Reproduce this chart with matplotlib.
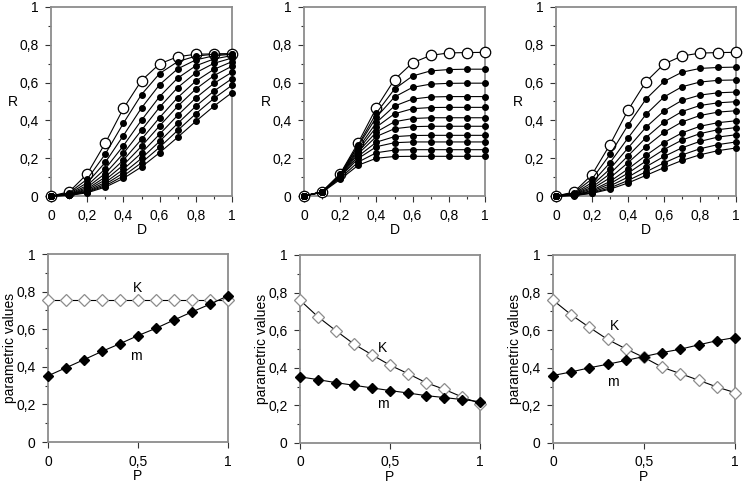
import numpy as np
import matplotlib
matplotlib.use("Agg")
import matplotlib.pyplot as plt
from matplotlib.ticker import MultipleLocator, FuncFormatter

plt.rcParams['font.family'] = ['Liberation Sans', 'DejaVu Sans']
plt.rcParams['font.size'] = 10

# x values
D = [0, 0.1, 0.2, 0.3, 0.4, 0.5, 0.6, 0.7, 0.8, 0.9, 1.0]
P = [0, 0.1, 0.2, 0.3, 0.4, 0.5, 0.6, 0.7, 0.8, 0.9, 1.0]

# bottom row: parameter values K and m against P
K_left = [0.753, 0.753, 0.753, 0.753, 0.753, 0.753, 0.753, 0.753, 0.753, 0.753, 0.753]
m_left = [0.352, 0.395, 0.438, 0.482, 0.523, 0.566, 0.605, 0.649, 0.692, 0.733, 0.778]
K_mid = [0.760, 0.671, 0.597, 0.526, 0.469, 0.414, 0.369, 0.321, 0.286, 0.245, 0.210]
m_mid = [0.352, 0.337, 0.321, 0.307, 0.293, 0.279, 0.266, 0.252, 0.242, 0.231, 0.220]
K_right = [0.760, 0.682, 0.615, 0.551, 0.501, 0.455, 0.403, 0.369, 0.334, 0.298, 0.268]
m_right = [0.359, 0.378, 0.400, 0.419, 0.439, 0.460, 0.481, 0.499, 0.522, 0.544, 0.561]

# top row: R against D, one row per P value (first row = P 0, open circles)
R_left = [
    [0.000, 0.022, 0.117, 0.280, 0.463, 0.611, 0.699, 0.737, 0.750, 0.752, 0.753],
    [0.000, 0.017, 0.089, 0.222, 0.385, 0.537, 0.648, 0.711, 0.740, 0.750, 0.752],
    [0.000, 0.013, 0.070, 0.178, 0.320, 0.466, 0.589, 0.673, 0.720, 0.742, 0.750],
    [0.000, 0.010, 0.056, 0.144, 0.266, 0.401, 0.526, 0.624, 0.689, 0.725, 0.743],
    [0.000, 0.008, 0.046, 0.119, 0.225, 0.348, 0.470, 0.574, 0.652, 0.702, 0.730],
    [0.000, 0.007, 0.038, 0.100, 0.190, 0.300, 0.415, 0.521, 0.608, 0.670, 0.711],
    [0.000, 0.006, 0.032, 0.085, 0.164, 0.263, 0.371, 0.475, 0.566, 0.637, 0.687],
    [0.000, 0.005, 0.027, 0.072, 0.141, 0.228, 0.327, 0.427, 0.519, 0.596, 0.655],
    [0.000, 0.004, 0.023, 0.062, 0.122, 0.199, 0.289, 0.384, 0.475, 0.555, 0.621],
    [0.000, 0.004, 0.020, 0.054, 0.106, 0.176, 0.258, 0.347, 0.435, 0.516, 0.586],
    [0.000, 0.003, 0.017, 0.047, 0.093, 0.154, 0.229, 0.311, 0.395, 0.475, 0.547],
]
R_mid = [
    [0.000, 0.022, 0.118, 0.283, 0.467, 0.616, 0.705, 0.744, 0.757, 0.759, 0.760],
    [0.000, 0.022, 0.115, 0.271, 0.439, 0.566, 0.635, 0.662, 0.669, 0.671, 0.671],
    [0.000, 0.022, 0.114, 0.265, 0.417, 0.524, 0.575, 0.592, 0.596, 0.597, 0.597],
    [0.000, 0.022, 0.111, 0.253, 0.389, 0.476, 0.513, 0.524, 0.526, 0.526, 0.526],
    [0.000, 0.022, 0.110, 0.244, 0.365, 0.435, 0.462, 0.468, 0.469, 0.469, 0.469],
    [0.000, 0.021, 0.108, 0.234, 0.339, 0.393, 0.410, 0.414, 0.414, 0.414, 0.414],
    [0.000, 0.022, 0.106, 0.224, 0.315, 0.356, 0.367, 0.369, 0.369, 0.369, 0.369],
    [0.000, 0.021, 0.103, 0.211, 0.285, 0.314, 0.320, 0.321, 0.321, 0.321, 0.321],
    [0.000, 0.021, 0.100, 0.199, 0.261, 0.282, 0.286, 0.286, 0.286, 0.286, 0.286],
    [0.000, 0.020, 0.094, 0.180, 0.229, 0.243, 0.245, 0.245, 0.245, 0.245, 0.245],
    [0.000, 0.019, 0.088, 0.163, 0.200, 0.209, 0.210, 0.210, 0.210, 0.210, 0.210],
]
R_right = [
    [0.000, 0.021, 0.113, 0.272, 0.454, 0.605, 0.698, 0.741, 0.756, 0.759, 0.760],
    [0.000, 0.017, 0.090, 0.220, 0.375, 0.513, 0.606, 0.655, 0.675, 0.680, 0.682],
    [0.000, 0.013, 0.071, 0.176, 0.307, 0.432, 0.524, 0.578, 0.603, 0.612, 0.614],
    [0.000, 0.011, 0.057, 0.143, 0.254, 0.364, 0.450, 0.506, 0.534, 0.546, 0.550],
    [0.000, 0.009, 0.046, 0.118, 0.212, 0.309, 0.391, 0.447, 0.479, 0.493, 0.499],
    [0.000, 0.007, 0.038, 0.096, 0.176, 0.261, 0.337, 0.392, 0.426, 0.444, 0.451],
    [0.000, 0.005, 0.030, 0.077, 0.143, 0.215, 0.282, 0.334, 0.369, 0.388, 0.398],
    [0.000, 0.005, 0.025, 0.065, 0.121, 0.185, 0.246, 0.296, 0.330, 0.351, 0.362],
    [0.000, 0.004, 0.020, 0.053, 0.100, 0.155, 0.209, 0.255, 0.289, 0.312, 0.324],
    [0.000, 0.003, 0.016, 0.043, 0.082, 0.128, 0.175, 0.217, 0.250, 0.272, 0.286],
    [0.000, 0.002, 0.014, 0.036, 0.069, 0.109, 0.150, 0.188, 0.218, 0.240, 0.254],
]

top_data = [R_left, R_mid, R_right]
bot_data = [(K_left, m_left), (K_mid, m_mid), (K_right, m_right)]
text_pos = [((0.5, 0.82), (0.49, 0.46)),
            ((0.46, 0.505), (0.46, 0.21)),
            ((0.34, 0.62), (0.33, 0.325))]


def fmt(v, pos):
    s = ('%.1f' % v).rstrip('0').rstrip('.')
    return s.replace('.', ',')


fig = plt.figure(figsize=(7.43, 4.84), dpi=100)
# axes boxes in pixels: left, top, width, height
top_pos = [(51, 7, 181, 189), (304, 7, 181, 189), (556, 7, 180, 189)]
bot_pos = [(48, 254, 180, 188), (300, 255, 180, 188), (553, 255, 182, 188)]


def mk_ax(p):
    x, y, w, h = p
    ax = fig.add_axes([x / 743, 1 - (y + h) / 484, w / 743, h / 484])
    for s in ax.spines.values():
        s.set_color('#8c8c8c')
        s.set_linewidth(1.3)
    ax.tick_params(which='both', direction='out', color='#333333', width=0.8,
                   labelsize=10, pad=5)
    ax.tick_params(which='major', length=4)
    ax.tick_params(which='minor', length=2.5)
    ax.yaxis.set_major_locator(MultipleLocator(0.2))
    ax.yaxis.set_minor_locator(MultipleLocator(0.1))
    ax.yaxis.set_major_formatter(FuncFormatter(fmt))
    ax.xaxis.set_major_formatter(FuncFormatter(fmt))
    ax.set_xlim(0, 1)
    ax.set_ylim(0, 1)
    return ax


for j in range(3):
    ax = mk_ax(top_pos[j])
    ax.xaxis.set_major_locator(MultipleLocator(0.2))
    ax.xaxis.set_minor_locator(MultipleLocator(0.1))
    curves = top_data[j]
    ax.plot(D, curves[0], '-', color='black', lw=0.8, marker='o', ms=7.5,
            mfc='white', mec='black', mew=0.9, zorder=3, clip_on=False)
    for row in curves[1:]:
        ax.plot(D, row, '-', color='black', lw=0.8, marker='o', ms=4,
                mfc='black', mec='black', zorder=4, clip_on=False)
    ax.set_xlabel('D', va='center')
    ax.xaxis.set_label_coords(0.5, -0.18)
    ax.set_ylabel('R', rotation=0, va='center', ha='center')
    ax.yaxis.set_label_coords(-0.21, 0.5)

for j in range(3):
    ax = mk_ax(bot_pos[j])
    ax.xaxis.set_major_locator(MultipleLocator(0.5))
    K, m = bot_data[j]
    ax.plot(P, K, '-', color='black', lw=0.8, marker='D', ms=6,
            mfc='white', mec='#8c8c8c', mew=0.9, zorder=3, clip_on=False)
    ax.plot(P, m, '-', color='black', lw=0.8, marker='D', ms=5,
            mfc='black', mec='black', zorder=4, clip_on=False)
    ax.text(*text_pos[j][0], 'K', ha='center', va='center', fontsize=10)
    ax.text(*text_pos[j][1], 'm', ha='center', va='center', fontsize=10)
    ax.set_xlabel('P', va='center')
    ax.xaxis.set_label_coords(0.5, -0.18)
    ax.set_ylabel('parametric values', va='center', ha='center')
    ax.yaxis.set_label_coords(-0.21, 0.5)

fig.savefig('out.png', dpi=100)
